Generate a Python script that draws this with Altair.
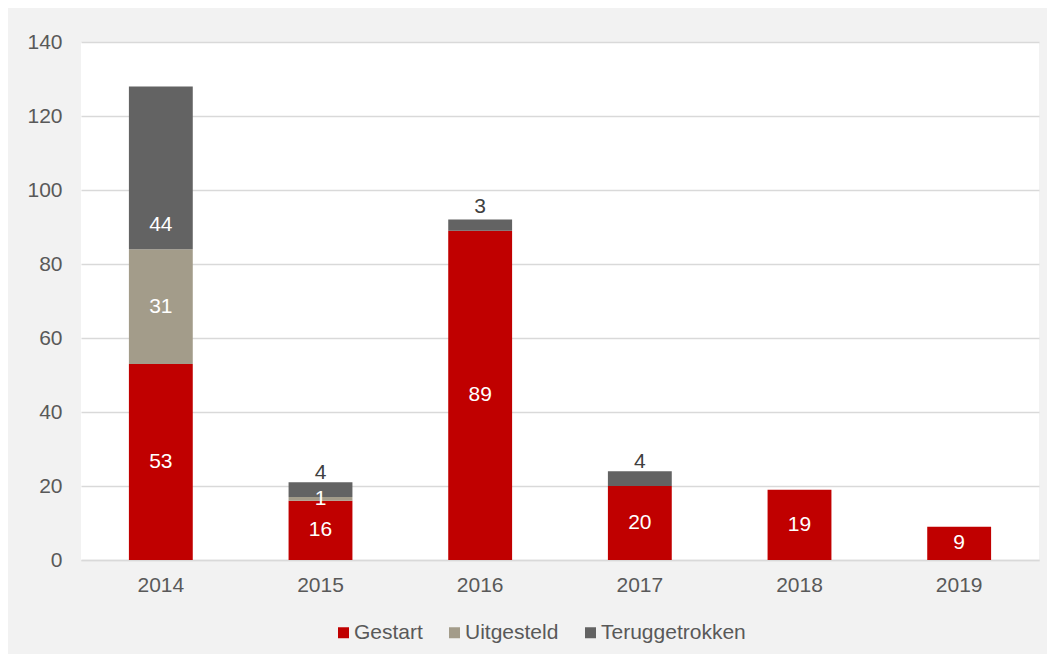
import altair as alt
import pandas as pd

years = ["2014", "2015", "2016", "2017", "2018", "2019"]
series = ["Gestart", "Uitgesteld", "Teruggetrokken"]
gestart = [53, 16, 89, 20, 19, 9]
uitgesteld = [31, 1, 0, 0, 0, 0]
teruggetrokken = [44, 4, 3, 4, 0, 0]
colors = ["#c00000", "#a39c8a", "#636363"]
y_ticks = [0, 20, 40, 60, 80, 100, 120, 140]

rows = []
for name, vals in zip(series, [gestart, uitgesteld, teruggetrokken]):
    for yr, v in zip(years, vals):
        rows.append({"year": yr, "series": name, "value": v})
df = pd.DataFrame(rows)

FONT = "Liberation Sans"
LABEL = "#595959"
GRID = "#d9d9d9"
FS = 21

base = (
    alt.Chart(df)
    .transform_calculate(ord="indexof(['Gestart','Uitgesteld','Teruggetrokken'], datum.series)")
    .transform_stack(stack="value", as_=["v0", "v1"], groupby=["year"],
                     sort=[alt.SortField("ord", order="ascending")])
)

x_enc = alt.X("year:N", sort=years, title=None,
              scale=alt.Scale(paddingInner=0.6, paddingOuter=0.3),
              axis=alt.Axis(labelAngle=0, labelColor=LABEL, labelFontSize=FS, labelFont=FONT,
                            ticks=False, domainColor=GRID, domainWidth=1.5, labelPadding=14, grid=False))
y_scale = alt.Scale(domain=[0, 140], nice=False)
y_axis = alt.Axis(values=y_ticks, labelColor=LABEL, labelFontSize=FS, labelFont=FONT, ticks=False,
                  domain=False, gridColor=GRID, gridWidth=1.5, labelPadding=19)

bars = base.mark_bar().encode(
    x=x_enc,
    y=alt.Y("v0:Q", scale=y_scale, axis=y_axis, title=None),
    y2="v1:Q",
    color=alt.Color("series:N", sort=series,
                    scale=alt.Scale(domain=series, range=colors),
                    legend=alt.Legend(title=None, orient="none", direction="horizontal",
                                      legendX=252, legendY=580, symbolType="square", symbolSize=121,
                                      symbolStrokeWidth=0, labelFontSize=FS, labelFont=FONT,
                                      labelColor=LABEL, labelOffset=0, columnPadding=21)),
    order=alt.Order("ord:Q"),
)

mid_text = (
    base.transform_filter("datum.value > 0 && datum.series != 'Teruggetrokken'")
    .transform_calculate(mid="(datum.v0 + datum.v1) / 2")
    .mark_text(font=FONT, fontSize=FS, color="white", baseline="middle")
    .encode(x=alt.X("year:N", sort=years), y=alt.Y("mid:Q", scale=y_scale), text="value:Q")
)

top_text = (
    base.transform_filter("datum.value > 0 && datum.series == 'Teruggetrokken'")
    .mark_text(font=FONT, fontSize=FS, baseline="middle", dy=-24)
    .encode(x=alt.X("year:N", sort=years), y=alt.Y("v0:Q", scale=y_scale), text="value:Q",
            color=alt.condition("datum.value >= 10", alt.value("white"), alt.value("#404040")))
)

chart = (
    alt.layer(bars, mid_text, top_text)
    .properties(width=958, height=518, background="#f2f2f2",
                autosize=alt.AutoSizeParams(type="none"),
                padding={"left": 73, "top": 34, "right": 8, "bottom": 94})
    .configure_view(fill="white", stroke=None)
)

chart.save("out.html", embed_options={"renderer": "svg", "actions": False})
